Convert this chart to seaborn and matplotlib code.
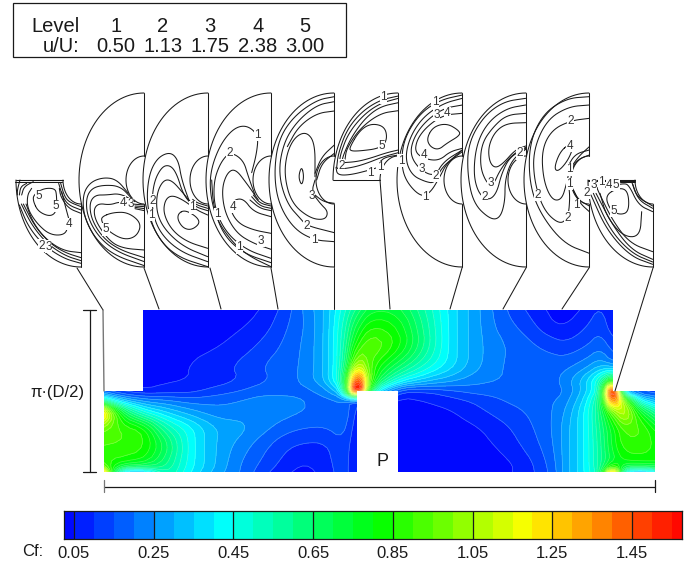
import numpy as np
import matplotlib
matplotlib.use("Agg")
import matplotlib.pyplot as plt
from matplotlib.colors import LinearSegmentedColormap, BoundaryNorm, ListedColormap
from matplotlib.patches import Polygon
import seaborn as sns

sns.set_theme(style="white")
plt.rcParams['font.family'] = ['Liberation Sans', 'DejaVu Sans']

# ---- legend table
levels_row = ["1", "2", "3", "4", "5"]
uU_row = ["0.50", "1.13", "1.75", "2.38", "3.00"]
cf_ticks = [0.05, 0.25, 0.45, 0.65, 0.85, 1.05, 1.25, 1.45]

# ---- Cf field, pixel-located samples
xs = [104,122,143,165,190,215,240,262,285,305,325,343,357,372,398,425,450,475,500,525,550,565,585,600,613,625,640,655]
ys = [310,325,345,365,380,391,400,412,428,445,464,472]
r310 = [.03,.03,.03,.03,.03,.03,.03,.05,.12,.21,.30,.47,.62,.75,.73,.55,.38,.27,.17,.10,.04,.02,.06,.11,.05,.05,.05,.05]
r325 = [.03,.03,.03,.03,.03,.03,.04,.07,.14,.20,.30,.50,.72,.85,.80,.58,.38,.27,.18,.13,.055,.045,.09,.14,.06,.06,.06,.06]
r345 = [.03,.03,.03,.03,.03,.04,.07,.11,.16,.21,.30,.52,.85,.97,.85,.60,.38,.27,.21,.17,.13,.11,.14,.18,.12,.10,.10,.10]
r365 = [.03,.03,.03,.03,.05,.08,.11,.15,.18,.21,.30,.52,1.10,.88,.68,.50,.38,.27,.20,.18,.18,.18,.22,.28,.20,.15,.15,.15]
r380 = [.03,.03,.03,.04,.05,.07,.10,.14,.17,.22,.30,.55,1.65,.80,.45,.33,.27,.22,.20,.18,.18,.22,.33,.50,.80,.50,.30,.20]
r391 = [.15,.08,.05,.07,.08,.12,.15,.18,.18,.18,.22,.38,2.00,.50,.10,.10,.14,.17,.17,.17,.17,.20,.32,.50,1.90,.20,.10,.10]
r400 = [.50,.30,.22,.20,.17,.18,.20,.22,.22,.20,.18,.20,.10,.10,.03,.05,.08,.11,.15,.17,.19,.22,.36,.60,1.55,.95,.40,.28]
r412 = [1.30,.72,.45,.35,.27,.22,.22,.25,.22,.20,.18,.20,.08,.05,.03,.03,.04,.08,.12,.15,.19,.25,.40,.62,.95,1.15,.78,.58]
r428 = [.95,.90,.85,.55,.42,.30,.27,.22,.17,.15,.15,.18,.06,.03,.03,.03,.03,.04,.08,.13,.19,.27,.40,.60,.78,.92,.92,.80]
r445 = [.90,.90,.88,.70,.42,.30,.23,.17,.11,.09,.09,.14,.05,.03,.03,.03,.03,.03,.055,.11,.18,.27,.40,.58,.78,.88,.88,.85]
r464 = [.85,.82,.78,.62,.42,.30,.20,.14,.08,.045,.08,.13,.05,.03,.03,.03,.03,.03,.03,.07,.16,.27,.40,.58,.72,.80,.82,.82]
r472 = [1.20,.35,.30,.58,.40,.28,.20,.12,.06,.03,.07,.13,.05,.03,.03,.03,.03,.03,.03,.07,.15,.27,.40,.55,1.40,.40,.30,.40]
cf_rows = [r310,r325,r345,r365,r380,r391,r400,r412,r428,r445,r464,r472]

P1 = [[(243,550),(190,535),(130,495),(85,440),(58,375)],
      [(243,542),(195,527),(140,490),(95,435),(64,372)],
      [(243,533),(195,518),(150,490),(105,440),(70,372)],
      [(243,518),(190,512),(140,480),(100,430),(78,372)],
      [(205,435),(195,465),(150,465),(110,430),(82,385),(82,345),(95,325)],
      [(100,365),(115,395),(150,410),(170,395),(170,345),(165,325),(130,325),(100,345),(100,365)],
      [(243,380),(205,365),(192,345),(182,310)],
      [(243,390),(205,375),(188,350),(176,310)],
      [(243,400),(205,385),(182,350),(178,325)],
      [(210,430),(195,375),(185,335)],
      [(60,300),(52,330),(52,345)],[(80,310),(62,320),(58,345)],[(100,305),(72,320),(65,345)],
      [(45,305),(187,305)],[(50,299),(187,299)]]
P1_labels = [("5",115,348),("5",168,378),("4",208,432),("2",125,497),("3",145,500)]
P2 = [[(385,340),(350,298),(310,292),(270,307),(248,345),(252,410),(285,475),(340,525),(433,557)],
      [(395,355),(360,318),(310,315),(275,325),(258,355),(262,410),(295,470),(350,515),(433,545)],
      [(405,365),(360,340),(320,345),(285,345),(268,370),(275,420),(310,475),(360,510),(433,533)],
      [(433,375),(395,372),(360,365),(330,375),(295,370),(280,390),(290,430),(330,485),(370,505),(433,510)],
      [(305,410),(340,397),(385,397),(425,430),(410,470),(370,480),(320,450),(305,425),(305,410)],
      [(433,380),(405,378)],[(433,386),(405,382)],[(433,392),(405,386)]]
P2_labels = [("4",368,368),("3",392,373),("5",318,448)]
P3 = [[(572,375),(545,300),(535,240),(510,215),(470,235),(445,290),(440,380),(470,470),(530,530),(623,560)],
      [(580,378),(550,345),(530,280),(510,255),(485,260),(460,310),(455,390),(480,460),(540,515),(623,545)],
      [(585,382),(550,340),(515,300),(490,300),(470,340),(470,400),(495,450),(550,500),(623,530)],
      [(623,405),(590,390),(550,360),(515,345),(495,360),(490,400),(515,450),(560,485),(623,505)],
      [(535,400),(555,390),(590,410),(600,430),(575,450),(550,445),(533,420),(535,400)],
      [(623,378),(590,368),(578,358)],[(623,385),(590,375),(580,365)],[(623,392),(590,382),(582,372)]]
P3_labels = [("1",577,382),("2",458,362),("1",455,405)]
P4 = [[(755,278),(770,220),(775,165),(740,135),(700,145),(660,195),(632,270),(630,340),(650,420),(700,490),(750,530),(813,560)],
      [(765,345),(745,290),(730,240),(690,215),(660,250),(640,310),(645,390),(680,460),(740,510),(813,535)],
      [(775,360),(740,310),(705,265),(680,280),(665,330),(675,400),(710,460),(760,490),(813,508)],
      [(813,410),(760,395),(730,355),(700,360),(690,390),(715,430),(760,450),(813,460)],
      [(813,378),(780,370),(760,345)],[(813,385),(780,378),(755,350)],[(813,392),(780,385),(750,360)],
      [(635,300),(640,380),(670,465),(730,520),(813,548)]]
P4_labels = [("1",772,165),("2",690,218),("4",700,380),("3",783,483),("1",652,402),("1",718,502)]
P5 = [[(1003,50),(950,60),(880,110),(835,180),(822,280),(835,370),(880,445),(940,480),(1003,485)],
      [(1003,65),(950,75),(890,125),(850,190),(835,280),(860,370),(905,420),(920,437),(1003,458)],
      [(945,290),(945,190),(920,155),(885,170),(860,220),(853,290),(875,370),(930,415),(975,420),(985,395),(960,370),(935,335),(945,300)],
      [(905,258),(912,290),(905,318),(895,290),(905,258)],
      [(1003,195),(965,230),(945,280)],[(1003,220),(965,250),(950,300)],[(1003,370),(970,365),(945,345)],
      [(1003,93),(950,100),(895,140),(862,200)]]
P5_labels = [("3",935,348),("2",920,437),("1",942,480)]
P6 = [[(205,48),(150,60),(95,95),(50,150),(25,220),(20,262)],
      [(205,55),(150,70),(100,105),(55,160),(32,220),(28,250)],
      [(205,68),(150,80),(105,115),(65,170),(40,225),(36,245)],
      [(205,92),(150,100),(90,145),(50,205),(45,238)],
      [(60,200),(90,150),(125,130),(165,140),(172,180),(150,205),(90,213),(60,213),(60,200)],
      [(205,210),(170,218),(120,235),(80,245),(40,248)],
      [(205,218),(160,230),(110,250),(70,262),(25,268),(20,262)],
      [(150,260),(120,270),(60,285),(22,285),(18,262)],
      [(205,225),(165,232),(150,245)]]
P6_labels = [("1",160,52),("1",122,280),("1",150,262),("5",155,198),("2",35,257)]
P7 = [[(397,45),(330,60),(270,100),(225,170),(213,240),(225,300),(270,350),(300,340),(330,290),(350,250),(397,210)],
      [(397,55),(340,70),(280,110),(240,170),(225,235),(245,285),(285,305),(315,310),(335,260),(397,215)],
      [(397,75),(340,85),(285,125),(250,175),(240,225),(270,270),(315,290),(340,245),(397,210)],
      [(397,100),(340,105),(290,140),(260,180),(255,220),(295,240),(330,240),(360,215),(397,205)],
      [(290,175),(310,140),(350,130),(385,150),(392,165),(350,190),(325,210),(300,200),(290,175)]]
P7_labels = [("1",315,66),("3",320,104),("4",352,100),("4",282,226),("3",275,268),("1",287,350),("1",213,242),("2",318,288)]
P8 = [[(587,55),(520,65),(460,110),(415,190),(412,280),(430,370),(480,418),(510,415),(525,365),(525,300),(545,240),(587,208)],
      [(587,75),(530,85),(475,125),(440,190),(430,280),(445,340),(475,362),(500,340),(515,280),(540,230),(587,205)],
      [(587,100),(530,105),(490,140),(455,190),(450,260),(470,310),(490,315),(510,270),(545,225),(587,202)],
      [(587,128),(530,130),(495,155),(475,200),(478,245),(495,265),(520,250),(555,210),(587,198)]]
P8_labels = [("3",483,310),("2",463,352),("2",570,220)]
P9 = [[(778,50),(710,55),(640,100),(598,190),(598,310),(630,400),(700,490),(778,520)],
      [(778,75),(715,80),(650,120),(610,210),(612,300),(640,390),(690,435),(715,410),(720,350),(715,310)],
      [(778,115),(722,122),(665,150),(635,210),(640,300),(665,360),(695,360),(710,310),(718,270),(745,230),(778,200)],
      [(690,215),(720,190),(732,195),(715,240),(685,275),(672,265),(690,215)],
      [(778,225),(740,240),(722,275)],[(778,210),(735,222),(712,262)],
      [(730,330),(750,370),(778,395)],[(725,320),(745,360),(778,378)]]
P9_labels = [("2",722,122),("4",720,197),("2",622,345),("2",712,413),("1",740,375),("1",718,268),("1",718,312)]
P10 = [[(968,553),(900,528),(830,450),(783,345)],
       [(968,546),(905,520),(840,450),(790,340)],
       [(968,538),(905,510),(850,440),(798,340)],
       [(968,515),(900,490),(850,425),(810,345),(800,322)],
       [(935,395),(930,470),(880,470),(830,410),(810,340)],
       [(825,345),(870,322),(895,335),(897,395),(870,405),(840,390),(825,345)],
       [(905,305),(920,350),(968,378)],[(968,385),(925,360),(908,312)],
       [(968,395),(925,375),(897,315),(880,310),(825,322),(795,325)],
       [(775,303),(915,303)],[(775,300),(915,300)],[(870,306),(915,306)]]
P10_labels = [("1",815,307),("4",838,315),("5",858,315),("5",850,393),("2",770,338),("3",790,316)]

panel_right = [81,144,208,271,334,398,462,526,589,653]
panel_kind = ["low","half","half","half","half","up","half","half","half","low"]
panel_lines = [P1,P2,P3,P4,P5,P6,P7,P8,P9,P10]
panel_labels = [P1_labels,P2_labels,P3_labels,P4_labels,P5_labels,P6_labels,P7_labels,P8_labels,P9_labels,P10_labels]
panel_crop = [0,0,0,0,0,330,330,330,330,330]

leader_top = [(77,268),(144,268),(210,268),(271,268),(334,268),(380,180),(462,268),(526,268),(589,268),(653,268)]
leader_bot = [(103,310),(159,309),(221,309),(278,309),(334,309),(390,309),(450,309),(503,309),(562,309),(615,391)]

# ---- colour scale
VMIN, VMAX = 0.025, 1.575
cmap_base = LinearSegmentedColormap.from_list("cf", [
    (0.0, (0, 0, 1)), (0.255, (0, 1, 1)), (0.51, (0, 1, 0)), (0.75, (1, 1, 0)), (1.0, (1, 0, 0))])
edges = np.arange(0, 33) * 0.05
centers = (np.clip(edges[:-1], VMIN, VMAX) + np.clip(edges[1:], VMIN, VMAX)) / 2
band_cols = [cmap_base((c - VMIN) / (VMAX - VMIN)) for c in centers]
norm = BoundaryNorm(edges, len(band_cols))
cmap = ListedColormap(band_cols)

W, H = 688, 565
fig = plt.figure(figsize=(W / 100, H / 100), dpi=100, facecolor="white")
ax = fig.add_axes([0, 0, 1, 1])
LW = 0.75

def smooth(pts, n=3):
    p = np.asarray(pts, float)
    closed = np.allclose(p[0], p[-1])
    for _ in range(n):
        q = p[:-1] * 0.75 + p[1:] * 0.25
        r = p[:-1] * 0.25 + p[1:] * 0.75
        mid = np.empty((q.shape[0] * 2, 2))
        mid[0::2] = q
        mid[1::2] = r
        if closed:
            p = np.vstack([mid, mid[0]])
        else:
            p = np.vstack([p[0], mid, p[-1]])
    return p

def smooth_grid(a, n=2):
    # display-only corner cutting of the read table, both directions
    out = np.asarray(a, float)
    for axis in (0, 1):
        out = np.moveaxis(out, axis, 0)
        for _ in range(n):
            q = out[:-1] * 0.75 + out[1:] * 0.25
            r = out[:-1] * 0.25 + out[1:] * 0.75
            mid = np.empty((q.shape[0] * 2,) + q.shape[1:])
            mid[0::2] = q
            mid[1::2] = r
            out = np.concatenate([out[:1], mid, out[-1:]], axis=0)
        out = np.moveaxis(out, 0, axis)
    return out

def line(x, y, color="k", lw=LW, zorder=3):
    sns.lineplot(x=np.asarray(x, float), y=np.asarray(y, float), sort=False, estimator=None,
                 color=color, linewidth=lw, ax=ax, zorder=zorder, legend=False)

def arc(cx, cy, rx, ry, a0, a1):
    t = np.radians(np.linspace(a0, a1, 60))
    return cx + rx * np.cos(t), cy - ry * np.sin(t)

# ---- field
X, Y = np.meshgrid(xs, ys)
Z = np.clip(np.array(cf_rows), 0.001, 2.2)
Xs, Ys, Zs = smooth_grid(X), smooth_grid(Y), np.clip(smooth_grid(Z), 0.001, 1.59)
cs = ax.contourf(Xs, Ys, Zs, levels=edges, cmap=cmap, norm=norm, zorder=1, antialiased=False)
cl = ax.contour(Xs, Ys, Zs, levels=edges[1:-1], colors="white", linewidths=0.5, alpha=0.3, zorder=1.5)
domain = Polygon([(104,391),(143,391),(143,310),(613,310),(613,391),(655,391),(655,473),
                  (398,473),(398,391),(357,391),(357,473),(104,473)],
                 closed=True, transform=ax.transData, fc="none", ec="none")
ax.add_patch(domain)
cs.set_clip_path(domain)
cl.set_clip_path(domain)

# ---- cross sections
CY, RX, RY, rx, ry = 180, 65, 87, 18, 24
for right, kind, lines, labels, crop in zip(panel_right, panel_kind, panel_lines, panel_labels, panel_crop):
    if kind == "half":
        a = arc(right, CY, RX, RY, 90, 270)
        b = arc(right, CY, rx, ry, 90, 270)
        line(*a); line(*b)
        line([right, right], [CY - RY, CY - ry]); line([right, right], [CY + ry, CY + RY])
    elif kind == "low":
        a = arc(right, CY, RX, RY, 180, 270)
        b = arc(right, CY, rx, ry, 180, 270)
        line(*a); line(*b)
        line([right, right], [CY + ry, CY + RY]); line([right - RX, right - rx], [CY, CY])
    else:
        a = arc(right, CY, RX, RY, 90, 180)
        b = arc(right, CY, rx, ry, 90, 180)
        line(*a); line(*b)
        line([right, right], [CY - RY, CY - ry]); line([right - RX, right - rx], [CY, CY])
    for pts in lines:
        s = smooth(pts)
        line(s[:, 0] / 3 + crop, s[:, 1] / 3 + 80)
    for txt, zx, zy in labels:
        ax.text(zx / 3 + crop, zy / 3 + 80, txt, fontsize=8.5, ha="center", va="center", color="#333333",
                zorder=4, bbox=dict(fc="white", ec="none", pad=0.3))

for (x0, y0), (x1, y1) in zip(leader_top, leader_bot):
    line([x0, x1], [y0, y1])
line([103, 104], [310, 391], color="#777777", lw=1.0)

# ---- dimension bars
line([90, 90], [310, 472], lw=0.9)
line([83, 96], [310, 310], lw=0.9); line([83, 96], [472, 472], lw=0.9)
line([104, 655], [487, 487], lw=0.9)
line([104, 104], [480, 492], lw=0.9, color="#777777"); line([655, 655], [480, 492], lw=0.9)
ax.text(85, 392, "π·(D/2)", fontsize=12, ha="right", va="center", color="k")
ax.text(382, 461, "P", fontsize=13, ha="center", va="center", color="k")

# ---- legend box
ax.add_patch(plt.Rectangle((13, 3), 333, 54, fc="white", ec="k", lw=0.9, zorder=2))
ax.text(80, 26, "Level", fontsize=14.5, ha="right", va="center", color="k", zorder=3)
ax.text(80, 46, "u/U:", fontsize=14.5, ha="right", va="center", color="k", zorder=3)
for xc, a, b in zip([116, 163, 210, 258, 305], levels_row, uU_row):
    ax.text(xc, 26, a, fontsize=14.5, ha="center", va="center", color="k", zorder=3)
    ax.text(xc, 46, b, fontsize=14.5, ha="center", va="center", color="k", zorder=3)

ax.set_xlim(0, W); ax.set_ylim(H, 0)
ax.set_axis_off()

# ---- colour bar
cax = fig.add_axes([64 / W, 1 - 539 / H, 618 / W, 28 / H])
n_cells = 62
cell_cf = VMIN + (np.arange(n_cells) + 0.5) * 0.025
sns.heatmap(cell_cf[None, :], cmap=cmap, norm=norm, cbar=False, ax=cax,
            xticklabels=False, yticklabels=False)
pos = [(t - VMIN) / 0.025 for t in cf_ticks]
cax.vlines(pos, 0, 1, color="k", lw=0.9)
cax.set_xticks(pos)
cax.set_xticklabels([f"{t:.2f}" for t in cf_ticks], fontsize=12, color="k")
cax.tick_params(axis="x", length=0, pad=5)
cax.set_yticks([])
for sp in cax.spines.values():
    sp.set_visible(True); sp.set_edgecolor("k"); sp.set_linewidth(0.9)
ax.text(43, 552, "Cf:", fontsize=12, ha="right", va="center", color="k")

fig.savefig("out.png", dpi=100, facecolor="white")
